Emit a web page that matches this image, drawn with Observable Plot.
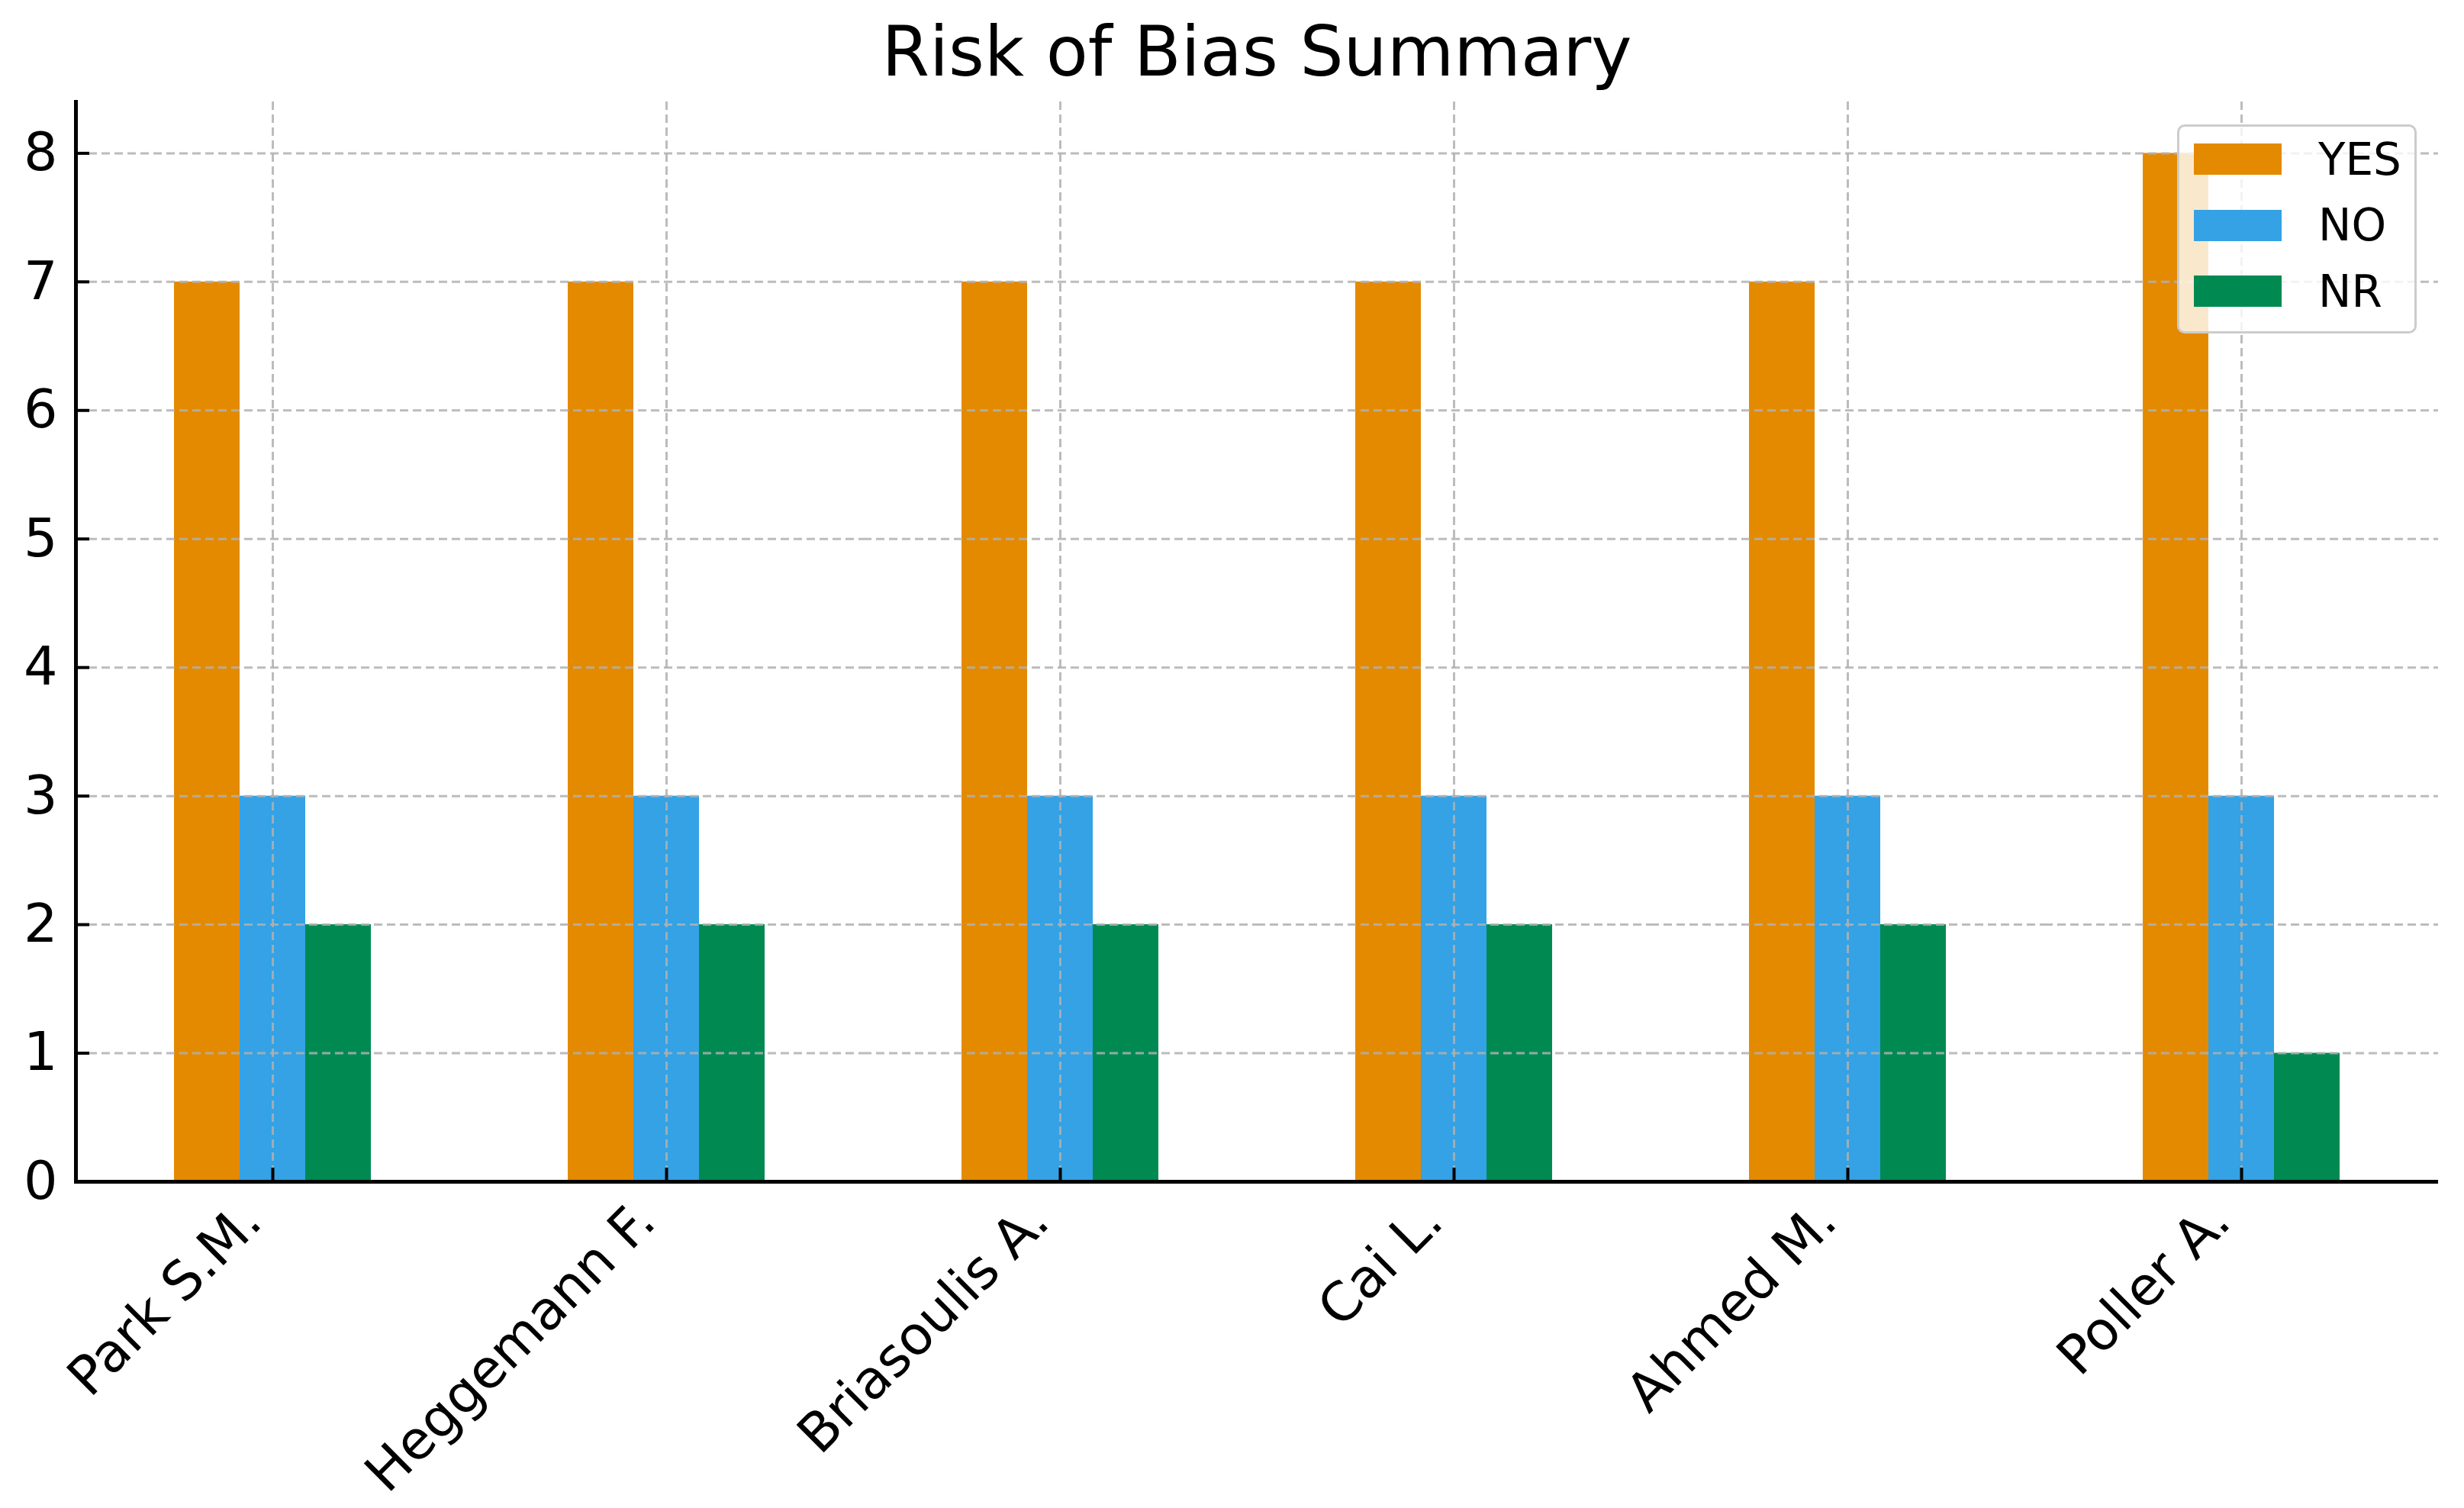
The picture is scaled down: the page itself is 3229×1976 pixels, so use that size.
<!DOCTYPE html>
<html>
<head>
<meta charset="utf-8">
<script src="https://cdn.jsdelivr.net/npm/d3@7"></script>
<script src="https://cdn.jsdelivr.net/npm/@observablehq/plot@0.6"></script>
<style>
  html, body { margin: 0; padding: 0; background: #fff; }
  #page { position: relative; width: 3229px; height: 1976px; font-family: "DejaVu Sans", sans-serif; }
  #title { box-sizing: border-box; height: 127px; padding: 23px 32px 0 97px; font-size: 90px; line-height: 1; text-align: center; color: #000; }
  #legend { position: absolute; left: 2853px; top: 163px; width: 314px; height: 274px; box-sizing: border-box;
            border: 3px solid #cccccc; border-radius: 10px; background: rgba(255,255,255,0.8); }
  .row { position: absolute; left: 0; height: 60px; display: flex; align-items: center; }
  .sw { width: 115px; height: 41px; margin-left: 19px; }
  .lab { margin-left: 48px; font-size: 58px; color: #000; }
</style>
</head>
<body>
<div id="page">
  <div id="title">Risk of Bias Summary</div>
  <div id="chart"></div>
  <div id="legend"></div>
</div>
<script>
const studies = ["Park S.M.", "Heggemann F.", "Briasoulis A.", "Cai L.", "Ahmed M.", "Poller A."];
const seriesNames = ["YES", "NO", "NR"];
const yesCounts = [7, 7, 7, 7, 7, 8];
const noCounts = [3, 3, 3, 3, 3, 3];
const nrCounts = [2, 2, 2, 2, 2, 1];
const seriesColors = ["#E48A00", "#34A2E4", "#008A52"];
const yTicks = [0, 1, 2, 3, 4, 5, 6, 7, 8];
const yMax = 8.4;

const valuesBySeries = [yesCounts, noCounts, nrCounts];
const rows = studies.flatMap((s, i) => seriesNames.map((name, j) => ({study: s, series: name, value: valuesBySeries[j][i]})));

const grid = {stroke: "#b0b0b0", strokeOpacity: 0.85, strokeWidth: 3, strokeDasharray: "11,6"};

const chart = Plot.plot({
  width: 3229,
  height: 1849,
  marginTop: 6,
  marginBottom: 428,
  marginLeft: 97,
  marginRight: 32,
  style: {fontFamily: "DejaVu Sans", fontSize: "70px", background: "white", color: "#000"},
  fx: {domain: studies, padding: 0, label: null},
  x: {domain: seriesNames, paddingInner: 0, paddingOuter: 1.5, axis: null},
  y: {domain: [0, yMax], nice: false, label: null},
  color: {domain: seriesNames, range: seriesColors},
  facet: {marginTop: 0, marginBottom: 0, marginLeft: 0, marginRight: 0},
  marks: [
    Plot.barY(rows, {fx: "study", x: "series", y: "value", fill: "series"}),
    Plot.gridY(yTicks.slice(1), grid),
    Plot.gridFx({...grid}),
    Plot.ruleY([0], {stroke: "#000", strokeWidth: 5}),
    Plot.frame({anchor: "left", facetAnchor: "left", stroke: "#000", strokeWidth: 5}),
    Plot.axisY(yTicks, {anchor: "left", tickSize: -18, tickPadding: 42, strokeWidth: 4, fontSize: 70, tickFormat: d => String(d), label: null}),
    Plot.axisFx({anchor: "bottom", tickSize: -18, strokeWidth: 4, tickFormat: () => "", label: null}),
    Plot.axisFx({anchor: "bottom", tickSize: 0, tickRotate: -45, tickPadding: 40, dx: -27, fontSize: 70, label: null})
  ]
});
document.getElementById("chart").appendChild(chart);

const legend = document.getElementById("legend");
seriesNames.forEach((name, i) => {
  const row = document.createElement("div");
  row.className = "row";
  row.style.top = (42.5 + i * 86.5 - 30) + "px";
  const sw = document.createElement("div");
  sw.className = "sw";
  sw.style.background = seriesColors[i];
  const lab = document.createElement("div");
  lab.className = "lab";
  lab.textContent = name;
  row.appendChild(sw);
  row.appendChild(lab);
  legend.appendChild(row);
});
</script>
</body>
</html>
